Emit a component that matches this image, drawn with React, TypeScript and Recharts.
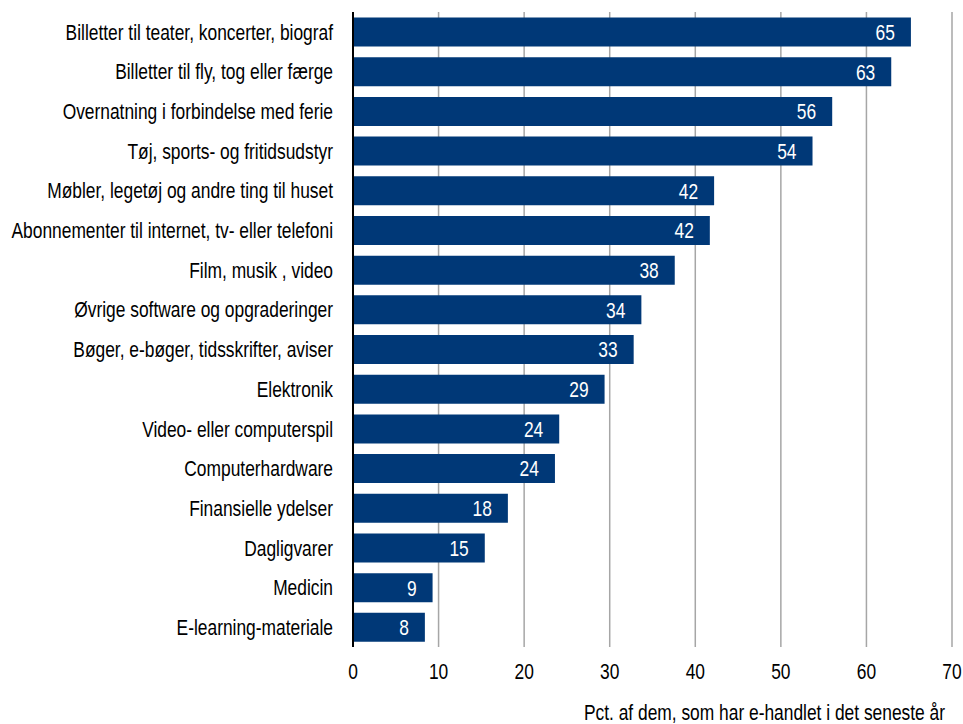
import React from 'react';
import { BarChart, Bar, XAxis, YAxis, CartesianGrid, LabelList } from 'recharts';

const categories = [
  'Billetter til teater, koncerter, biograf',
  'Billetter til fly, tog eller færge',
  'Overnatning i forbindelse med ferie',
  'Tøj, sports- og fritidsudstyr',
  'Møbler, legetøj og andre ting til huset',
  'Abonnementer til internet, tv- eller telefoni',
  'Film, musik , video',
  'Øvrige software og opgraderinger',
  'Bøger, e-bøger, tidsskrifter, aviser',
  'Elektronik',
  'Video- eller computerspil',
  'Computerhardware',
  'Finansielle ydelser',
  'Dagligvarer',
  'Medicin',
  'E-learning-materiale',
];

const values = [65.2, 62.9, 56.0, 53.7, 42.2, 41.7, 37.6, 33.7, 32.8, 29.4, 24.1, 23.6, 18.1, 15.4, 9.3, 8.4];

const xTicks = [0, 10, 20, 30, 40, 50, 60, 70];
const axisTitle = 'Pct. af dem, som har e-handlet i det seneste år';

const data = categories.map((name, i) => ({ name, value: values[i] }));

const FONT = "'Liberation Sans', Arial, sans-serif";
const FS = 22;
const SX = 0.79;
const BAR_COLOR = '#003877';

const NarrowText = ({ x, y, anchor, dy, fill, children }: any) => (
  <g transform={`translate(${x},${y})`}>
    <text
      transform={`scale(${SX},1)`}
      x={0}
      y={0}
      dy={dy}
      textAnchor={anchor}
      fontFamily={FONT}
      fontSize={FS}
      fill={fill}
    >
      {children}
    </text>
  </g>
);

const YTick = (props: any) => (
  <NarrowText x={props.x} y={props.y} anchor="end" dy="0.355em" fill="#000">
    {props.payload.value}
  </NarrowText>
);

const XTick = (props: any) => (
  <NarrowText x={props.x} y={props.y} anchor="middle" dy="0.71em" fill="#000">
    {props.payload.value}
  </NarrowText>
);

const ValueLabel = (props: any) => {
  const { x, y, width, height, value } = props;
  return (
    <NarrowText x={x + width - 16} y={y + height / 2} anchor="end" dy="0.355em" fill="#fff">
      {Math.round(Number(value))}
    </NarrowText>
  );
};

const TitleLabel = (props: any) => {
  const vb = props.viewBox || {};
  return (
    <NarrowText x={vb.x + vb.width - 7} y={vb.y + vb.height - 4} anchor="end" dy={0} fill="#000">
      {axisTitle}
    </NarrowText>
  );
};

export default function App() {
  return (
    <div style={{ position: 'absolute', left: 0, top: 0, background: '#fff' }}>
      <BarChart
        width={963}
        height={724}
        data={data}
        layout="vertical"
        margin={{ top: 12, right: 11, bottom: 0, left: 0 }}
        barCategoryGap="14%"
      >
        <CartesianGrid horizontal={false} vertical={true} stroke="#a6a6a6" strokeWidth={1.5} />
        <XAxis
          type="number"
          domain={[0, 70]}
          ticks={xTicks}
          axisLine={false}
          tickLine={false}
          tickSize={0}
          tickMargin={16}
          height={77}
          tick={<XTick />}
          label={<TitleLabel />}
        />
        <YAxis
          type="category"
          dataKey="name"
          width={353}
          axisLine={{ stroke: '#000', strokeWidth: 2 }}
          tickLine={false}
          tickSize={0}
          tickMargin={20}
          interval={0}
          tick={<YTick />}
        />
        <Bar dataKey="value" fill={BAR_COLOR} isAnimationActive={false}>
          <LabelList dataKey="value" content={<ValueLabel />} />
        </Bar>
      </BarChart>
    </div>
  );
}
